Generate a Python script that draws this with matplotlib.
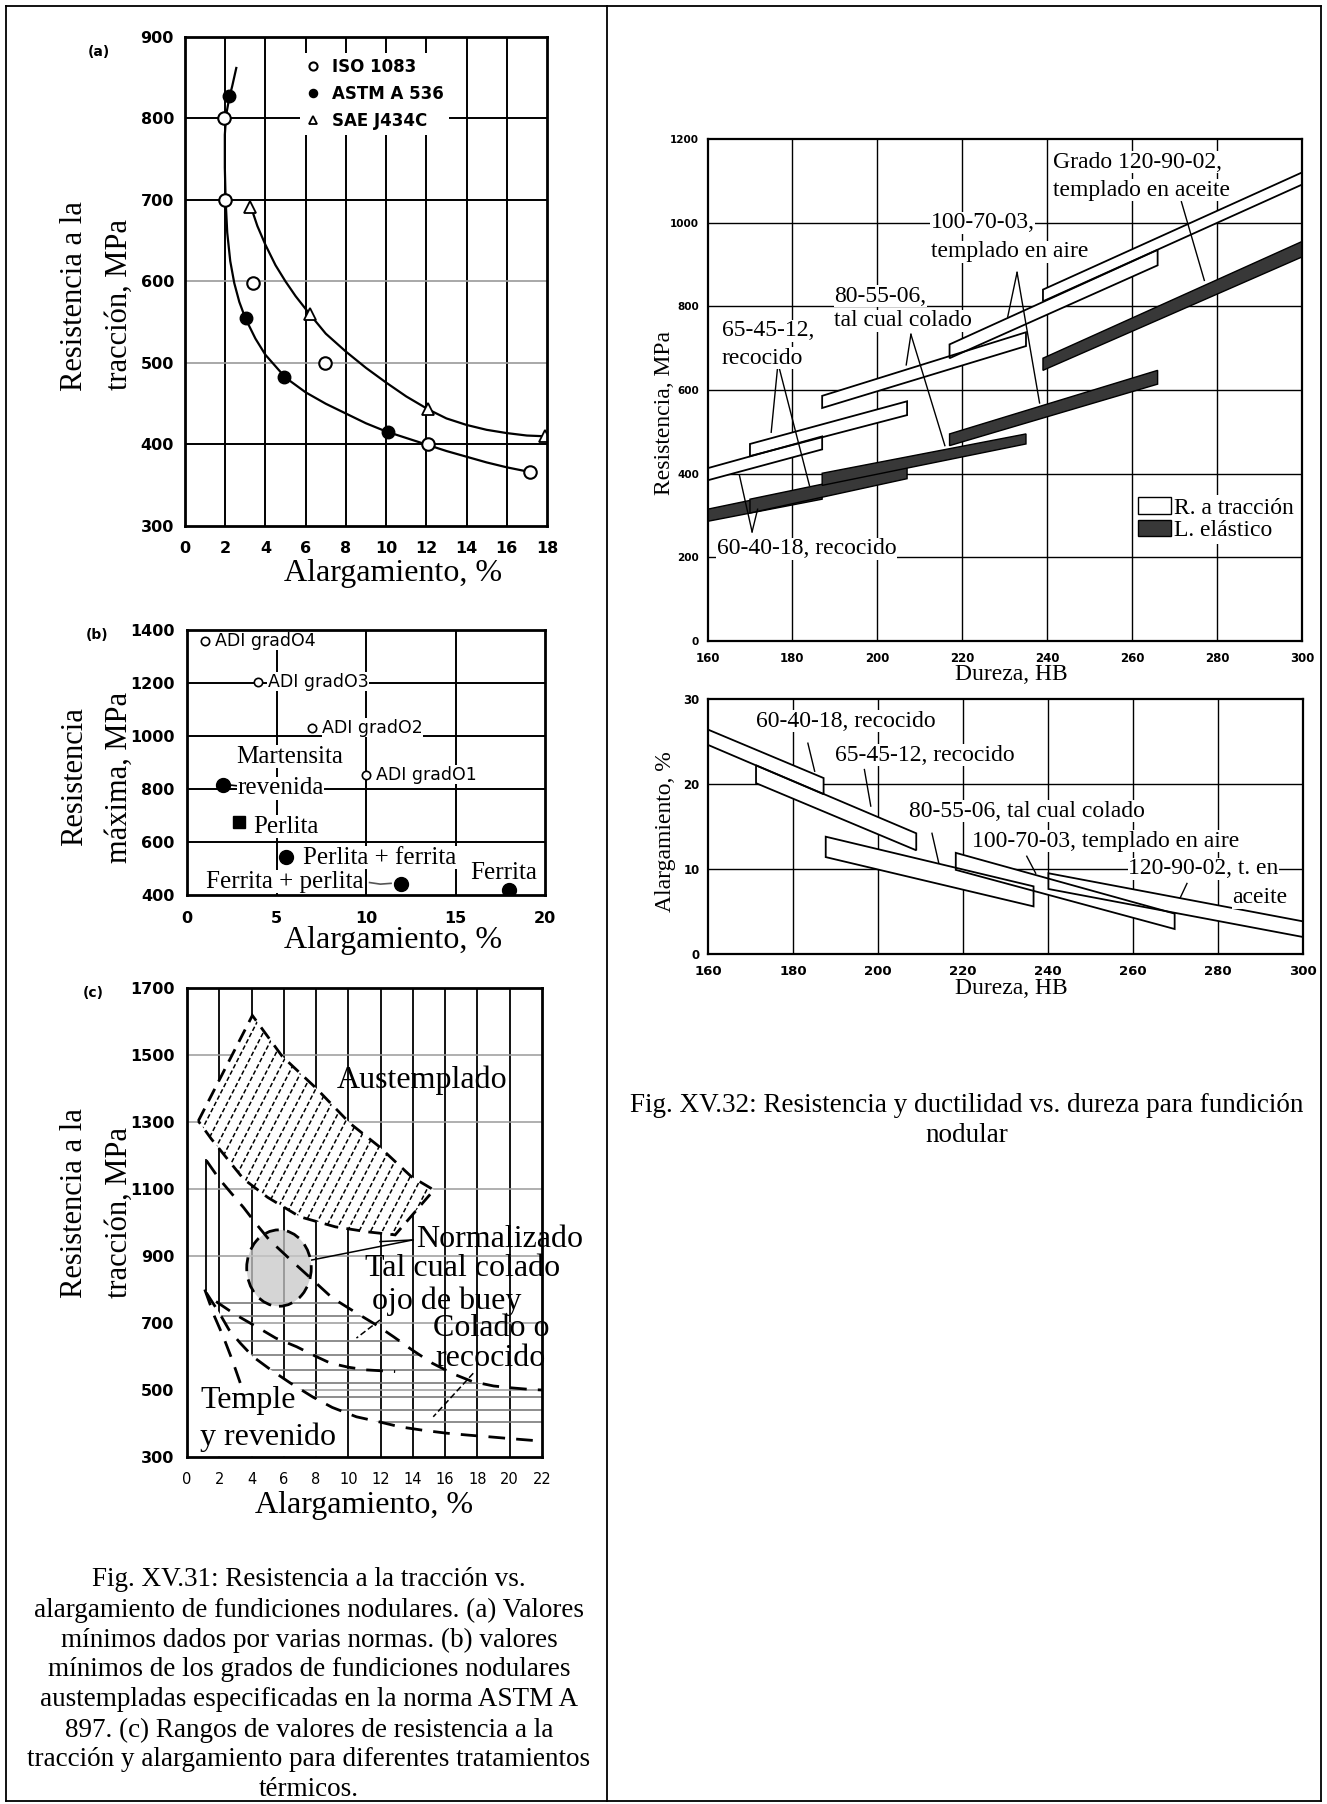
import numpy as np
import matplotlib
matplotlib.use("Agg")
import matplotlib.pyplot as plt
from matplotlib.patches import Polygon, Ellipse, Patch
from matplotlib.lines import Line2D

W, H = 1327, 1804
SERIF = "Liberation Serif"
SANS = "DejaVu Sans"
INK = "black"
DARK = "#383838"

# ── (a) valores minimos por norma ─────────────────────────────
ISO_X = [1.96, 2.0, 3.38, 6.97, 12.07, 17.15]
ISO_Y = [801, 700, 598, 500, 400, 366]
ASTM_X = [2.2, 3.02, 4.9, 10.1]
ASTM_Y = [828, 555, 483, 415]
SAE_X = [3.22, 6.22, 12.1, 17.9]
SAE_Y = [692, 560, 443, 411]
# curvas
A_LOW_X = [2.55, 2.35, 2.2, 2.05, 1.98, 1.98, 2.02, 2.1, 2.25, 2.45, 2.7, 3.0, 3.5, 4.0,
           5.0, 6.0, 7.0, 8.0, 9.0, 10.0, 11.0, 12.0, 13.0, 14.0, 15.0, 16.0, 17.0]
A_LOW_Y = [862, 840, 825, 805, 780, 740, 700, 660, 625, 598, 575, 555, 530, 510,
           482, 464, 450, 438, 426, 416, 408, 400, 392, 385, 378, 372, 367]
A_UP_X = [3.3, 3.6, 4.0, 4.5, 5.0, 5.5, 6.2, 7.0, 8.0, 9.0, 10.0, 11.0, 12.1,
          13.0, 14.0, 15.0, 16.0, 17.0, 18.0]
A_UP_Y = [690, 668, 645, 620, 600, 582, 560, 536, 514, 494, 476, 459, 443,
          432, 424, 418, 414, 411, 410]

# ── (b) ADI y otras microestructuras ─────────────────────────
ADI_X = [1.0, 3.96, 7.0, 10.0]
ADI_Y = [1360, 1205, 1031, 853]
ADI_LAB = ["ADI gradO4", "ADI gradO3", "ADI gradO2", "ADI gradO1"]
MIC_X = [2.03, 5.55, 11.93, 18.0]
MIC_Y = [815, 542, 442, 419]
PER_X = [2.92]
PER_Y = [677]

# ── (c) rangos por tratamiento ────────────────────────────────
AUS_UP_X = [0.7, 4.05, 5.9, 8.0, 10.1, 11.9, 13.9, 15.3]
AUS_UP_Y = [1303, 1618, 1496, 1401, 1296, 1227, 1137, 1097]
AUS_LO_X = [0.7, 1.5, 2.5, 3.5, 5.0, 7.0, 9.2, 11.2, 12.9]
AUS_LO_Y = [1303, 1250, 1190, 1130, 1075, 1017, 987, 972, 963]
C_LONG_X = [1.2, 2.0, 2.7, 3.5, 4.3, 5.1, 6.5, 7.8, 9.0, 10.5, 11.7, 12.8, 14.0,
            15.2, 16.5, 17.7, 19.0, 20.2, 21.2, 22.0]
C_LONG_Y = [1185, 1130, 1090, 1045, 995, 948, 885, 828, 775, 730, 695, 659, 618,
            580, 548, 525, 512, 506, 502, 500]
C_MID_X = [1.8, 3.0, 4.3, 5.5, 6.8, 8.0, 8.9, 10.0, 11.1, 12.9]
C_MID_Y = [764, 725, 689, 655, 629, 600, 580, 568, 560, 555]
C_LOW_X = [1.2, 2.0, 2.6, 3.3, 4.1, 5.2, 6.4, 7.8, 9.0, 10.5, 11.9, 13.2, 14.6,
           16.1, 17.5, 18.8, 20.0, 21.3, 22.0]
C_LOW_Y = [790, 730, 680, 640, 599, 560, 521, 479, 448, 420, 405, 390, 380,
           371, 365, 360, 355, 350, 348]
C_TEMP_X = [1.1, 1.7, 2.25, 2.8, 3.3]
C_TEMP_Y = [800, 720, 659, 590, 521]
C_HLINES = [760, 720, 645, 605, 560, 520, 480, 440, 405]
BUEY_C = (5.7, 864)

# ── derecha: resistencia vs dureza ───────────────────────────
GRADOS = ["60-40-18", "65-45-12", "80-55-06", "100-70-03", "120-90-02"]
S_X0 = [160, 170, 187, 217, 239]
S_X1 = [187, 207, 235, 266, 300]
TS_LO0 = [384, 442, 557, 676, 812]
TS_HI0 = [413, 471, 586, 709, 840]
TS_LO1 = [458, 540, 705, 898, 1091]
TS_HI1 = [489, 573, 738, 935, 1120]
YS_LO0 = [286, 306, 372, 467, 647]
YS_HI0 = [315, 339, 401, 495, 676]
YS_LO1 = [339, 388, 471, 614, 918]
YS_HI1 = [372, 417, 495, 647, 955]

# ── derecha: alargamiento vs dureza ──────────────────────────
E_X0 = [160, 171.3, 187.7, 218.3, 240.1]
E_X1 = [187.2, 209, 236.6, 269.8, 300]
E_HI0 = [26.4, 22.2, 13.8, 11.9, 9.5]
E_LO0 = [24.6, 20.1, 11.4, 9.9, 7.65]
E_HI1 = [20.7, 14.2, 7.96, 4.75, 3.84]
E_LO1 = [18.8, 12.2, 5.6, 2.94, 2.0]

CAP_LEFT = ["Fig. XV.31: Resistencia a la tracción vs.",
            "alargamiento de fundiciones nodulares. (a) Valores",
            "mínimos dados por varias normas. (b) valores",
            "mínimos de los grados de fundiciones nodulares",
            "austempladas especificadas en la norma ASTM A",
            "897. (c) Rangos de valores de resistencia a la",
            "tracción y alargamiento para diferentes tratamientos",
            "térmicos."]
CAP_RIGHT = ["Fig. XV.32: Resistencia y ductilidad vs. dureza para fundición",
             "nodular"]

fig = plt.figure(figsize=(W / 100, H / 100), dpi=100)


def axes_px(l, t, r, b):
    return fig.add_axes([l / W, 1 - b / H, (r - l) / W, (b - t) / H])


def text_px(x, y, s, **kw):
    fig.text(x / W, 1 - y / H, s, **kw)


def style(ax, sx, sy, padx, pady, lw):
    for s in ax.spines.values():
        s.set_linewidth(lw)
        s.set_zorder(10)
    ax.tick_params(axis="x", length=0, labelsize=sx, pad=padx)
    ax.tick_params(axis="y", length=0, labelsize=sy, pad=pady)
    for lbl in ax.get_xticklabels() + ax.get_yticklabels():
        lbl.set_fontfamily(SANS)
        lbl.set_fontweight("bold")


WB = dict(fc="white", ec="none", pad=0.4)

# ── panel (a) ─────────────────────────────────────────────────
ax = axes_px(185, 37, 547, 526)
ax.set_xlim(0, 18); ax.set_ylim(300, 900)
ax.set_xticks(range(0, 19, 2)); ax.set_yticks(range(300, 901, 100))
for v in range(2, 17, 2):
    ax.axvline(v, color=INK, lw=1.4, zorder=1)
for h in [400, 700, 800]:
    ax.axhline(h, color=INK, lw=1.4, zorder=1)
for h in [500, 600]:
    ax.axhline(h, color="#9a9a9a", lw=1.2, zorder=1)
ax.plot(A_LOW_X, A_LOW_Y, color=INK, lw=1.6, zorder=3)
ax.plot(A_UP_X, A_UP_Y, color=INK, lw=1.6, zorder=3)
ax.plot(ISO_X, ISO_Y, "o", mfc="white", mec=INK, ms=9, mew=1.5, zorder=5, label="ISO 1083")
ax.plot(ASTM_X, ASTM_Y, "o", color=INK, ms=9, zorder=5, label="ASTM A 536")
ax.plot(SAE_X, SAE_Y, "^", mfc="white", mec=INK, ms=8, mew=1.3, zorder=5, label="SAE J434C")
leg = ax.legend(loc="upper left", bbox_to_anchor=(0.295, 0.985), frameon=True,
                framealpha=1, edgecolor="none", fancybox=False, markerscale=0.65,
                prop=dict(family=SANS, weight="bold", size=12), handlelength=1.0,
                handletextpad=0.6, labelspacing=0.55, borderpad=0.3)
leg.set_zorder(6)
style(ax, 11.5, 11.5, 11, 8, 2.0)
text_px(99, 52, "(a)", fontsize=10, fontweight="bold", family=SANS, ha="center", va="center")
text_px(75, 296, "Resistencia a la", rotation=90, fontsize=22, family=SERIF, ha="center", va="center")
text_px(119, 304, "tracción, MPa", rotation=90, fontsize=22, family=SERIF, ha="center", va="center")
text_px(393, 573, "Alargamiento, %", fontsize=23, family=SERIF, ha="center", va="center")

# ── panel (b) ─────────────────────────────────────────────────
ax = axes_px(187, 630, 545, 895)
ax.set_xlim(0, 20); ax.set_ylim(400, 1400)
ax.set_xticks(range(0, 21, 5)); ax.set_yticks(range(400, 1401, 200))
for v in [5, 10, 15]:
    ax.axvline(v, color=INK, lw=1.4, zorder=1)
for h in [600, 800, 1000, 1200]:
    ax.axhline(h, color=INK, lw=1.4, zorder=1)
ax.plot(ADI_X, ADI_Y, "o", mfc="white", mec=INK, ms=6, mew=1.2, zorder=5)
for x, y, s in zip(ADI_X, ADI_Y, ADI_LAB):
    ax.text(x + 0.55, y, s, fontsize=12.5, family=SANS, ha="left",
            va="center", zorder=4, bbox=WB)
ax.plot(MIC_X, MIC_Y, "o", color=INK, ms=10, zorder=5)
ax.plot(PER_X, PER_Y, "s", color=INK, ms=8, zorder=5)
ax.plot([2.0, 2.8], [818, 812], color=INK, lw=1.2, zorder=4)
ax.plot([10.2, 10.8, 11.4], [447, 441, 444], color="#555555", lw=1.2, zorder=4)
LB = dict(fontsize=18, family=SERIF, ha="left", va="center", zorder=4, bbox=WB)
ax.text(2.76, 922, "Martensita", **LB)
ax.text(2.8, 803, "revenida", **LB)
ax.text(3.7, 658, "Perlita", **LB)
ax.text(6.5, 540, "Perlita + ferrita", **LB)
ax.text(1.04, 450, "Ferrita + perlita", **LB)
ax.text(15.8, 482, "Ferrita", **LB)
style(ax, 11.5, 11.5, 11.5, 9, 2.0)
text_px(97, 635, "(b)", fontsize=10, fontweight="bold", family=SANS, ha="center", va="center")
text_px(75, 777, "Resistencia", rotation=90, fontsize=22, family=SERIF, ha="center", va="center")
text_px(119, 777, "máxima, MPa", rotation=90, fontsize=22, family=SERIF, ha="center", va="center")
text_px(393, 940, "Alargamiento, %", fontsize=23, family=SERIF, ha="center", va="center")

# ── panel (c) ─────────────────────────────────────────────────
ax = axes_px(187, 988, 542, 1457)
ax.set_xlim(0, 22); ax.set_ylim(300, 1700)
ax.set_xticks(range(0, 23, 2)); ax.set_yticks(range(300, 1701, 200))
for v in range(2, 21, 2):
    ax.axvline(v, color=INK, lw=1.3, zorder=1)
for h in range(500, 1600, 200):
    ax.axhline(h, color="#9a9a9a", lw=1.1, zorder=1)

# mascara blanca bajo la curva inferior (zona de temple y revenido)
mx = [0.02] + [x for x in C_LOW_X if x < 9.9] + [9.9, 9.9]
my = [790] + [y for x, y in zip(C_LOW_X, C_LOW_Y) if x < 9.9] + [440, 301]
mask = Polygon(np.column_stack([mx + [0.02], my + [301]]), closed=True, fc="white",
               ec="none", zorder=1.5)
ax.add_patch(mask)

# banda austemplado con rayado discontinuo
aus = np.column_stack([AUS_UP_X + AUS_LO_X[::-1], AUS_UP_Y + AUS_LO_Y[::-1]])
band = Polygon(aus, closed=True, fc="white", ec="none", zorder=2)
ax.add_patch(band)
ax.add_patch(Polygon(aus, closed=True, fill=False, ec=INK, lw=2.0,
                     ls=(0, (5, 3)), zorder=4))
slope = (AUS_UP_X[1] - AUS_UP_X[0]) / (AUS_UP_Y[1] - AUS_UP_Y[0])
for x0 in np.arange(-6, 20, 0.72):
    ln, = ax.plot([x0 + (900 - 1303) * slope, x0 + (1700 - 1303) * slope], [900, 1700],
                  color=INK, lw=1.1, ls=(0, (3, 1.6)), zorder=3)
    ln.set_clip_path(band)

# rayado horizontal colado o recocido
col = Polygon(np.column_stack([C_LONG_X + C_LOW_X[::-1], C_LONG_Y + C_LOW_Y[::-1]]),
              closed=True, fill=False, ec="none")
ax.add_patch(col)
for h in C_HLINES:
    ln, = ax.plot([2, 22], [h, h], color="#7a7a7a", lw=1.2, zorder=2)
    ln.set_clip_path(col)

DASH = dict(color=INK, lw=2.0, ls=(0, (6, 4)), zorder=4)
ax.plot(C_LONG_X, C_LONG_Y, **DASH)
ax.plot(C_MID_X, C_MID_Y, **DASH)
ax.plot(C_LOW_X, C_LOW_Y, **DASH)
ax.plot(C_TEMP_X, C_TEMP_Y, **DASH)
ax.plot([1.2, 1.2], [800, 1187], color=INK, lw=1.3, zorder=3)
ax.add_patch(Ellipse(BUEY_C, 4.0, 228, fc="#c8c8c8", alpha=0.75, ec="none", zorder=3))
ax.add_patch(Ellipse(BUEY_C, 4.0, 228, fill=False, ec=INK, lw=2.0, ls=(0, (5, 3)), zorder=4))

ax.plot([14.0, 11.96], [948, 943], color=INK, lw=1.1, zorder=5)
ax.plot([14.0, 7.73], [948, 888], color=INK, lw=1.1, zorder=5)
ax.plot([11.96, 10.5], [709, 655], color=INK, lw=1.1, ls=(0, (4, 2)), zorder=5)
ax.plot([17.74, 15.26], [550, 420], color=INK, lw=1.1, ls=(0, (4, 2)), zorder=5)
CT = dict(fontsize=23, family=SERIF, ha="left", va="center", zorder=6)
ax.text(9.28, 1425, "Austemplado", **CT)
ax.text(14.23, 950, "Normalizado", clip_on=False, **CT)
ax.text(11.03, 863, "Tal cual colado", **CT)
ax.text(11.45, 764, "ojo de buey", **CT)
ax.text(15.26, 684, "Colado o", **CT)
ax.text(15.37, 595, "recocido", **CT)
ax.text(0.81, 470, "Temple", **CT)
ax.text(0.81, 360, "y revenido", **CT)
style(ax, 10.5, 11.5, 11, 9, 2.0)
for lbl in ax.get_xticklabels():
    lbl.set_fontweight("normal")
text_px(93, 993, "(c)", fontsize=10, fontweight="bold", family=SANS, ha="center", va="center")
text_px(75, 1203, "Resistencia a la", rotation=90, fontsize=22, family=SERIF, ha="center", va="center")
text_px(119, 1213, "tracción, MPa", rotation=90, fontsize=22, family=SERIF, ha="center", va="center")
text_px(364, 1505, "Alargamiento, %", fontsize=23, family=SERIF, ha="center", va="center")

# ── derecha arriba: resistencia ───────────────────────────────
ax = axes_px(707.5, 139, 1302, 641)
ax.set_xlim(160, 300); ax.set_ylim(0, 1200)
ax.set_xticks(range(160, 301, 20)); ax.set_yticks(range(0, 1201, 200))
for v in range(180, 281, 20):
    ax.axvline(v, color=INK, lw=1.0, zorder=1)
for h in range(200, 1001, 200):
    ax.axhline(h, color=INK, lw=1.0, zorder=1)
for i in range(len(GRADOS)):
    ys = np.array([[S_X0[i], YS_LO0[i]], [S_X1[i], YS_LO1[i]],
                   [S_X1[i], YS_HI1[i]], [S_X0[i], YS_HI0[i]]])
    ax.add_patch(Polygon(ys, closed=True, fc=DARK, ec=INK, lw=1.0, zorder=3))
    ts = np.array([[S_X0[i], TS_LO0[i]], [S_X1[i], TS_LO1[i]],
                   [S_X1[i], TS_HI1[i]], [S_X0[i], TS_HI0[i]]])
    ax.add_patch(Polygon(ts, closed=True, fc="white", ec="none", zorder=2.5))
    ax.add_patch(Polygon(ts, closed=True, fill=False, ec=INK, lw=1.3, zorder=4))
LEAD = [[(271.6, 1050), (277, 862)],
        [(232.9, 881), (230.7, 775)], [(232.9, 881), (238.2, 569)],
        [(207.9, 733), (206.8, 660)], [(207.9, 733), (215.9, 467)],
        [(176.6, 664), (175, 499)], [(176.6, 664), (184, 372)],
        [(170.5, 261), (167.5, 397)], [(170.5, 261), (171.8, 315)]]
for (x0, y0), (x1, y1) in LEAD:
    ax.plot([x0, x1], [y0, y1], color=INK, lw=1.0, zorder=5)
RT = dict(fontsize=17, family=SERIF, ha="left", va="center", zorder=6, bbox=WB)
ax.text(241.3, 1144, "Grado 120-90-02,", **RT)
ax.text(241.3, 1078, "templado en aceite", **RT)
ax.text(212.6, 1000, "100-70-03,", **RT)
ax.text(212.6, 931, "templado en aire", **RT)
ax.text(189.8, 824, "80-55-06,", **RT)
ax.text(189.8, 766, "tal cual colado", **RT)
ax.text(163.3, 742, "65-45-12,", **RT)
ax.text(163.3, 676, "recocido", **RT)
ax.text(162.2, 220, "60-40-18, recocido", **RT)
hnd = [Patch(fc="white", ec=INK, lw=1.0, label="R. a tracción"),
       Patch(fc=DARK, ec=INK, lw=1.0, label="L. elástico")]
leg = ax.legend(handles=hnd, loc="upper left", bbox_to_anchor=(0.70, 0.315), frameon=True,
                framealpha=1, edgecolor="none", fancybox=False,
                prop=dict(family=SERIF, size=17), handlelength=1.4, handleheight=0.7,
                handletextpad=0.15, labelspacing=0.05, borderpad=0.1)
leg.set_zorder(6)
style(ax, 8.5, 7.5, 8, 6, 1.6)
text_px(1011, 675, "Dureza, HB", fontsize=17, family=SERIF, ha="center", va="center")
text_px(665, 413, "Resistencia, MPa", rotation=90, fontsize=17, family=SERIF, ha="center", va="center")

# ── derecha abajo: alargamiento ───────────────────────────────
ax = axes_px(708, 699, 1303, 954)
ax.set_xlim(160, 300); ax.set_ylim(0, 30)
ax.set_xticks(range(160, 301, 20)); ax.set_yticks([0, 10, 20, 30])
for v in range(180, 281, 20):
    ax.axvline(v, color=INK, lw=1.0, zorder=1)
for h in [10, 20]:
    ax.axhline(h, color=INK, lw=1.0, zorder=1)
for i in range(len(GRADOS)):
    el = np.array([[E_X0[i], E_LO0[i]], [E_X1[i], E_LO1[i]],
                   [E_X1[i], E_HI1[i]], [E_X0[i], E_HI0[i]]])
    ax.add_patch(Polygon(el, closed=True, fc="white", ec="none", zorder=2.5))
    ax.add_patch(Polygon(el, closed=True, fill=False, ec=INK, lw=1.3, zorder=4))
LEAD2 = [[(183.5, 24.8), (185.1, 21.5)], [(196.8, 21.7), (198.3, 17.4)],
         [(212.7, 14.2), (214.3, 10.7)], [(235.0, 11.5), (237.1, 9.5)],
         [(272.7, 8.3), (271.1, 6.6)]]
for (x0, y0), (x1, y1) in LEAD2:
    ax.plot([x0, x1], [y0, y1], color=INK, lw=1.0, zorder=5)
ax.text(171.3, 27.4, "60-40-18, recocido", **RT)
ax.text(189.8, 23.4, "65-45-12, recocido", **RT)
ax.text(207.4, 16.8, "80-55-06, tal cual colado", **RT)
ax.text(222.2, 13.25, "100-70-03, templado en aire", **RT)
ax.text(258.9, 10.0, "120-90-02, t. en", **RT)
ax.text(283.3, 6.6, "aceite", **RT)
style(ax, 9.5, 8.5, 8, 6, 1.6)
text_px(1011, 988, "Dureza, HB", fontsize=17, family=SERIF, ha="center", va="center")
text_px(665, 832, "Alargamiento, %", rotation=90, fontsize=17, family=SERIF, ha="center", va="center")

# ── leyendas de figura y marco de tabla ───────────────────────
for i, s in enumerate(CAP_LEFT):
    text_px(309, 1580 + 30 * i, s, fontsize=19.5, family=SERIF, ha="center", va="center")
for i, s in enumerate(CAP_RIGHT):
    text_px(967, 1105 + 30 * i, s, fontsize=19.5, family=SERIF, ha="center", va="center")

for xs, ys in [([6, 1321], [6, 6]), ([6, 1321], [1801, 1801]), ([6, 6], [6, 1801]),
               ([1321, 1321], [6, 1801]), ([607, 607], [6, 1801])]:
    fig.add_artist(Line2D([x / W for x in xs], [1 - y / H for y in ys],
                          transform=fig.transFigure, color=INK, lw=1.3))

fig.savefig("out.png", dpi=100)
